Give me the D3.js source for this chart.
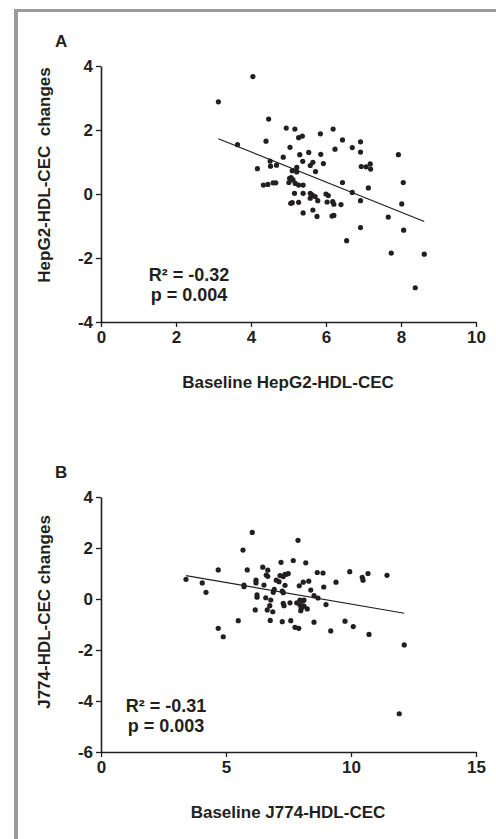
<!DOCTYPE html>
<html>
<head>
<meta charset="utf-8">
<script src="https://cdn.jsdelivr.net/npm/d3@7"></script>
<style>
  body { margin: 0; background: #fff; }
  text { font-family: "Liberation Sans", Arial, sans-serif; font-weight: bold; fill: #231f20; }
</style>
</head>
<body>
<div id="chart"></div>
<script>
// panel A: baseline HepG2-HDL-CEC vs change
var hepBaseline = [3.13,3.64,4.05,4.17,4.33,4.45,4.40,4.47,4.51,4.52,4.59,4.66,4.68,4.86,4.94,5.01,5.03,5.04,5.06,5.07,
  5.10,5.10,5.12,5.16,5.17,5.18,5.22,5.22,5.27,5.27,5.27,5.30,5.37,5.38,5.39,5.39,5.39,5.54,5.58,5.58,
  5.58,5.63,5.65,5.65,5.71,5.72,5.76,5.78,5.85,5.86,5.93,6.00,6.03,6.06,6.16,6.18,6.19,6.21,6.21,6.24,
  6.40,6.44,6.44,6.55,6.70,6.70,6.92,6.92,6.92,6.92,6.94,7.07,7.13,7.18,7.19,7.66,7.74,7.93,8.02,8.06,
  8.07,8.38,8.62];
var hepChange = [2.88,1.54,3.67,0.79,0.28,0.30,1.65,2.34,1.03,0.87,0.35,0.35,0.90,1.15,2.06,0.36,0.49,1.46,-0.29,0.51,
  -0.27,0.73,0.44,0.02,2.03,0.33,0.83,0.69,1.76,0.28,-0.26,1.23,1.81,1.02,0.28,0.02,-0.59,1.30,0.89,0.02,
  -0.13,-0.03,0.99,-0.50,-0.08,0.70,-0.70,-0.21,1.88,1.24,0.95,0.00,-0.25,-0.05,-0.69,-0.24,2.03,-0.32,-0.67,1.40,
  -0.33,1.69,0.36,-1.46,1.45,0.05,1.63,1.31,-0.21,-1.05,0.86,0.85,0.19,0.94,0.78,-0.72,-1.85,1.23,-0.31,0.36,
  -1.13,-2.93,-1.88];
var hepFit = {slope: -0.471, intercept: 3.20};

// panel B: baseline J774-HDL-CEC vs change
var j774Baseline = [3.40,4.05,4.20,4.69,4.69,4.89,5.49,5.68,5.72,5.72,5.85,6.05,6.17,6.20,6.20,6.24,6.24,6.47,6.52,6.59,
  6.61,6.65,6.67,6.67,6.75,6.77,6.79,6.87,6.89,6.93,7.01,7.12,7.16,7.20,7.25,7.25,7.29,7.29,7.29,7.32,
  7.36,7.36,7.43,7.49,7.56,7.59,7.69,7.76,7.83,7.88,7.91,7.93,7.96,7.96,7.99,8.01,8.07,8.09,8.12,8.12,
  8.19,8.25,8.31,8.39,8.52,8.52,8.65,8.68,8.88,8.91,9.00,9.19,9.40,9.76,9.95,10.09,10.45,10.48,10.68,10.72,
  11.44,11.93,12.13];
var j774Change = [0.77,0.63,0.26,1.14,-1.15,-1.48,-0.85,1.92,0.55,0.48,1.14,2.61,-0.43,0.74,0.63,0.16,0.07,1.25,0.55,0.05,
  0.94,-0.43,1.13,0.89,-0.26,-0.84,-0.04,-0.50,0.26,0.38,0.74,0.68,0.92,1.44,0.31,-0.89,0.88,0.25,-0.17,-0.26,
  0.97,0.54,0.97,1.00,-0.15,-0.85,1.51,-1.11,-0.15,2.30,-1.15,0.52,-0.04,-0.24,-0.46,-0.37,-0.08,0.66,-0.04,-0.28,
  1.42,-0.39,0.70,0.35,0.13,-0.91,1.04,0.04,1.02,0.47,-0.22,-1.25,0.66,-0.87,1.07,-1.08,0.85,0.74,1.00,-1.39,
  0.93,-4.50,-1.80];
var j774Fit = {slope: -0.169, intercept: 1.49};

var width = 496, height = 839;
var svg = d3.select("#chart").append("svg").attr("width", width).attr("height", height);

// grey frame on top and left
svg.append("rect").attr("x", 14).attr("y", 9).attr("width", width - 14).attr("height", 3).attr("fill", "#9b9b9b");
svg.append("rect").attr("x", 14).attr("y", 9).attr("width", 4).attr("height", height - 9).attr("fill", "#9b9b9b");

function drawPanel(p) {
  var x = d3.scaleLinear().domain(p.xDomain).range([101, 476]);
  var y = d3.scaleLinear().domain(p.yDomain).range([p.bottom, p.top]);
  var g = svg.append("g");
  var plain = function(d) { return String(d); }; // keep a normal hyphen for negatives

  // axes
  var xAxis = g.append("g").attr("transform", "translate(0," + p.bottom + ")")
    .call(d3.axisBottom(x).tickValues(p.xTicks).tickFormat(plain).tickSize(5).tickSizeOuter(0).tickPadding(4));
  var yAxis = g.append("g").attr("transform", "translate(101,0)")
    .call(d3.axisLeft(y).tickValues(p.yTicks).tickFormat(plain).tickSize(5).tickSizeOuter(0).tickPadding(3));
  [xAxis, yAxis].forEach(function(a) {
    a.select(".domain").attr("stroke", "#231f20").attr("stroke-width", 1.6);
    a.selectAll(".tick line").attr("stroke", "#231f20").attr("stroke-width", 1.3);
    a.selectAll("text").attr("font-size", 17).attr("font-family", null).attr("fill", "#231f20");
  });

  // regression line across the data range
  var x0 = d3.min(p.xs), x1 = d3.max(p.xs);
  g.append("line")
    .attr("x1", x(x0)).attr("y1", y(p.fit.intercept + p.fit.slope * x0))
    .attr("x2", x(x1)).attr("y2", y(p.fit.intercept + p.fit.slope * x1))
    .attr("stroke", "#231f20").attr("stroke-width", 1.2);

  // points
  g.selectAll(".dot").data(p.xs).enter().append("circle")
    .attr("cx", function(d) { return x(d); })
    .attr("cy", function(d, i) { return y(p.ys[i]); })
    .attr("r", 2.6).attr("fill", "#231f20");

  // labels
  g.append("text").attr("x", 55).attr("y", p.top - 19).attr("font-size", 17).text(p.letter);
  g.append("text").attr("x", 288).attr("y", p.bottom + 66).attr("text-anchor", "middle")
    .attr("font-size", 17).text(p.xTitle);
  g.append("text").attr("text-anchor", "middle").attr("font-size", 17)
    .attr("transform", "translate(50," + p.yTitleMid + ") rotate(-90)")
    .style("white-space", "pre").text(p.yTitle);
  g.append("text").attr("x", p.statX).attr("y", p.statY).attr("text-anchor", "middle")
    .attr("font-size", 18).text(p.r2);
  g.append("text").attr("x", p.statX).attr("y", p.statY + 20).attr("text-anchor", "middle")
    .attr("font-size", 18).text(p.pval);
}

drawPanel({
  letter: "A", xs: hepBaseline, ys: hepChange, fit: hepFit,
  xDomain: [0, 10], yDomain: [-4, 4], xTicks: [0, 2, 4, 6, 8, 10], yTicks: [-4, -2, 0, 2, 4],
  top: 66, bottom: 322, xTitle: "Baseline HepG2-HDL-CEC", yTitle: "HepG2-HDL-CEC  changes", yTitleMid: 175,
  r2: "R\u00b2 = -0.32", pval: "p = 0.004", statX: 189, statY: 281
});

drawPanel({
  letter: "B", xs: j774Baseline, ys: j774Change, fit: j774Fit,
  xDomain: [0, 15], yDomain: [-6, 4], xTicks: [0, 5, 10, 15], yTicks: [-6, -4, -2, 0, 2, 4],
  top: 497, bottom: 752, xTitle: "Baseline J774-HDL-CEC", yTitle: "J774-HDL-CEC changes", yTitleMid: 612,
  r2: "R\u00b2 = -0.31", pval: "p = 0.003", statX: 166, statY: 712
});
</script>
</body>
</html>
